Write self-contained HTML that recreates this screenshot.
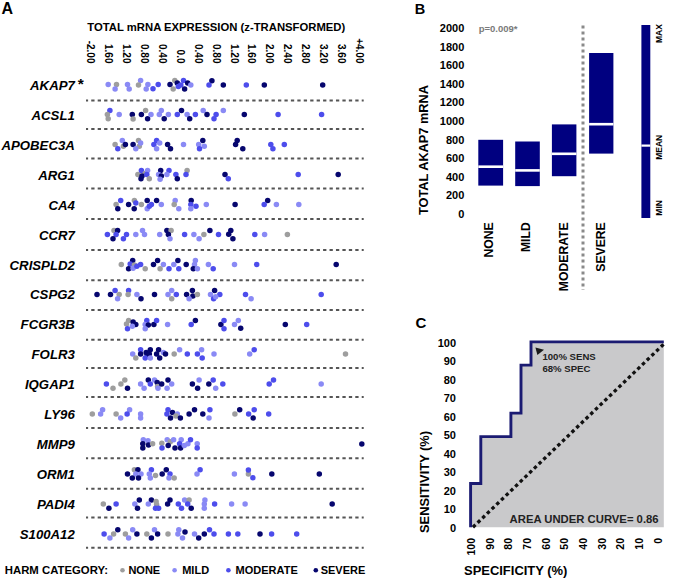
<!DOCTYPE html>
<html><head><meta charset="utf-8"><style>
html,body{margin:0;padding:0;background:#fff;overflow:hidden;width:675px;height:580px;}
svg{display:block;}
text{font-family:"Liberation Sans",sans-serif;}
</style></head><body>
<svg width="675" height="580" viewBox="0 0 675 580">
<rect width="675" height="580" fill="#fff"/>
<text x="1.6" y="14" font-size="16" font-family="Liberation Sans, sans-serif" font-weight="bold">A</text>
<text x="87.3" y="31.2" font-size="11" font-family="Liberation Sans, sans-serif" font-weight="bold" textLength="258" lengthAdjust="spacingAndGlyphs">TOTAL mRNA EXPRESSION (z-TRANSFORMED)</text>
<text transform="translate(87.20,63.5) rotate(90)" text-anchor="end" font-size="10" font-family="Liberation Sans, sans-serif" font-weight="bold">-2.00</text>
<text transform="translate(105.12,63.5) rotate(90)" text-anchor="end" font-size="10" font-family="Liberation Sans, sans-serif" font-weight="bold">1.60</text>
<text transform="translate(123.04,63.5) rotate(90)" text-anchor="end" font-size="10" font-family="Liberation Sans, sans-serif" font-weight="bold">1.20</text>
<text transform="translate(140.96,63.5) rotate(90)" text-anchor="end" font-size="10" font-family="Liberation Sans, sans-serif" font-weight="bold">0.80</text>
<text transform="translate(158.88,63.5) rotate(90)" text-anchor="end" font-size="10" font-family="Liberation Sans, sans-serif" font-weight="bold">0.40</text>
<text transform="translate(176.80,63.5) rotate(90)" text-anchor="end" font-size="10" font-family="Liberation Sans, sans-serif" font-weight="bold">0.0</text>
<text transform="translate(194.72,63.5) rotate(90)" text-anchor="end" font-size="10" font-family="Liberation Sans, sans-serif" font-weight="bold">0.40</text>
<text transform="translate(212.64,63.5) rotate(90)" text-anchor="end" font-size="10" font-family="Liberation Sans, sans-serif" font-weight="bold">0.80</text>
<text transform="translate(230.56,63.5) rotate(90)" text-anchor="end" font-size="10" font-family="Liberation Sans, sans-serif" font-weight="bold">1.20</text>
<text transform="translate(248.48,63.5) rotate(90)" text-anchor="end" font-size="10" font-family="Liberation Sans, sans-serif" font-weight="bold">1.60</text>
<text transform="translate(266.40,63.5) rotate(90)" text-anchor="end" font-size="10" font-family="Liberation Sans, sans-serif" font-weight="bold">2.00</text>
<text transform="translate(284.32,63.5) rotate(90)" text-anchor="end" font-size="10" font-family="Liberation Sans, sans-serif" font-weight="bold">2.40</text>
<text transform="translate(302.24,63.5) rotate(90)" text-anchor="end" font-size="10" font-family="Liberation Sans, sans-serif" font-weight="bold">2.80</text>
<text transform="translate(320.16,63.5) rotate(90)" text-anchor="end" font-size="10" font-family="Liberation Sans, sans-serif" font-weight="bold">3.20</text>
<text transform="translate(338.08,63.5) rotate(90)" text-anchor="end" font-size="10" font-family="Liberation Sans, sans-serif" font-weight="bold">3.60</text>
<text transform="translate(356.00,63.5) rotate(90)" text-anchor="end" font-size="10" font-family="Liberation Sans, sans-serif" font-weight="bold">+4.00</text>
<text x="74.8" y="90.1" text-anchor="end" font-size="13.2" font-family="Liberation Sans, sans-serif" font-weight="bold" font-style="italic">AKAP7</text>
<text x="74.8" y="120.0" text-anchor="end" font-size="13.2" font-family="Liberation Sans, sans-serif" font-weight="bold" font-style="italic">ACSL1</text>
<text x="74.8" y="149.9" text-anchor="end" font-size="13.2" font-family="Liberation Sans, sans-serif" font-weight="bold" font-style="italic">APOBEC3A</text>
<text x="74.8" y="179.8" text-anchor="end" font-size="13.2" font-family="Liberation Sans, sans-serif" font-weight="bold" font-style="italic">ARG1</text>
<text x="74.8" y="209.7" text-anchor="end" font-size="13.2" font-family="Liberation Sans, sans-serif" font-weight="bold" font-style="italic">CA4</text>
<text x="74.8" y="239.6" text-anchor="end" font-size="13.2" font-family="Liberation Sans, sans-serif" font-weight="bold" font-style="italic">CCR7</text>
<text x="74.8" y="269.5" text-anchor="end" font-size="13.2" font-family="Liberation Sans, sans-serif" font-weight="bold" font-style="italic">CRISPLD2</text>
<text x="74.8" y="299.4" text-anchor="end" font-size="13.2" font-family="Liberation Sans, sans-serif" font-weight="bold" font-style="italic">CSPG2</text>
<text x="74.8" y="329.3" text-anchor="end" font-size="13.2" font-family="Liberation Sans, sans-serif" font-weight="bold" font-style="italic">FCGR3B</text>
<text x="74.8" y="359.2" text-anchor="end" font-size="13.2" font-family="Liberation Sans, sans-serif" font-weight="bold" font-style="italic">FOLR3</text>
<text x="74.8" y="389.1" text-anchor="end" font-size="13.2" font-family="Liberation Sans, sans-serif" font-weight="bold" font-style="italic">IQGAP1</text>
<text x="74.8" y="419.0" text-anchor="end" font-size="13.2" font-family="Liberation Sans, sans-serif" font-weight="bold" font-style="italic">LY96</text>
<text x="74.8" y="448.9" text-anchor="end" font-size="13.2" font-family="Liberation Sans, sans-serif" font-weight="bold" font-style="italic">MMP9</text>
<text x="74.8" y="478.8" text-anchor="end" font-size="13.2" font-family="Liberation Sans, sans-serif" font-weight="bold" font-style="italic">ORM1</text>
<text x="74.8" y="508.7" text-anchor="end" font-size="13.2" font-family="Liberation Sans, sans-serif" font-weight="bold" font-style="italic">PADI4</text>
<text x="74.8" y="538.6" text-anchor="end" font-size="13.2" font-family="Liberation Sans, sans-serif" font-weight="bold" font-style="italic">S100A12</text>
<text x="77.8" y="89" font-size="15.5" font-family="Liberation Sans, sans-serif" font-weight="bold">*</text>
<line x1="86" y1="100.6" x2="363.7" y2="100.6" stroke="#555" stroke-width="2" stroke-dasharray="3.3 3.14" stroke-dashoffset="1.2"/>
<line x1="86" y1="129.0" x2="363.7" y2="129.0" stroke="#555" stroke-width="2" stroke-dasharray="3.3 3.14" stroke-dashoffset="1.2"/>
<line x1="86" y1="158.4" x2="363.7" y2="158.4" stroke="#555" stroke-width="2" stroke-dasharray="3.3 3.14" stroke-dashoffset="1.2"/>
<line x1="86" y1="188.5" x2="363.7" y2="188.5" stroke="#555" stroke-width="2" stroke-dasharray="3.3 3.14" stroke-dashoffset="1.2"/>
<line x1="86" y1="219.1" x2="363.7" y2="219.1" stroke="#555" stroke-width="2" stroke-dasharray="3.3 3.14" stroke-dashoffset="1.2"/>
<line x1="86" y1="249.9" x2="363.7" y2="249.9" stroke="#555" stroke-width="2" stroke-dasharray="3.3 3.14" stroke-dashoffset="1.2"/>
<line x1="86" y1="280.2" x2="363.7" y2="280.2" stroke="#555" stroke-width="2" stroke-dasharray="3.3 3.14" stroke-dashoffset="1.2"/>
<line x1="86" y1="309.9" x2="363.7" y2="309.9" stroke="#555" stroke-width="2" stroke-dasharray="3.3 3.14" stroke-dashoffset="1.2"/>
<line x1="86" y1="339.7" x2="363.7" y2="339.7" stroke="#555" stroke-width="2" stroke-dasharray="3.3 3.14" stroke-dashoffset="1.2"/>
<line x1="86" y1="368.1" x2="363.7" y2="368.1" stroke="#555" stroke-width="2" stroke-dasharray="3.3 3.14" stroke-dashoffset="1.2"/>
<line x1="86" y1="396.9" x2="363.7" y2="396.9" stroke="#555" stroke-width="2" stroke-dasharray="3.3 3.14" stroke-dashoffset="1.2"/>
<line x1="86" y1="428.0" x2="363.7" y2="428.0" stroke="#555" stroke-width="2" stroke-dasharray="3.3 3.14" stroke-dashoffset="1.2"/>
<line x1="86" y1="458.2" x2="363.7" y2="458.2" stroke="#555" stroke-width="2" stroke-dasharray="3.3 3.14" stroke-dashoffset="1.2"/>
<line x1="86" y1="488.7" x2="363.7" y2="488.7" stroke="#555" stroke-width="2" stroke-dasharray="3.3 3.14" stroke-dashoffset="1.2"/>
<line x1="86" y1="517.5" x2="363.7" y2="517.5" stroke="#555" stroke-width="2" stroke-dasharray="3.3 3.14" stroke-dashoffset="1.2"/>
<line x1="86" y1="547.7" x2="363.7" y2="547.7" stroke="#555" stroke-width="2" stroke-dasharray="3.3 3.14" stroke-dashoffset="1.2"/>
<circle cx="108.2" cy="84.5" r="2.75" fill="#8a8af5"/>
<circle cx="116.5" cy="84.5" r="2.75" fill="#9e9e9e"/>
<circle cx="115.1" cy="89.1" r="2.75" fill="#8a8af5"/>
<circle cx="127.5" cy="84.5" r="2.75" fill="#8a8af5"/>
<circle cx="129.2" cy="89.1" r="2.75" fill="#8a8af5"/>
<circle cx="140.6" cy="80.4" r="2.75" fill="#8a8af5"/>
<circle cx="138.5" cy="84.9" r="2.75" fill="#9e9e9e"/>
<circle cx="147.9" cy="84.5" r="2.75" fill="#8a8af5"/>
<circle cx="146.2" cy="89.1" r="2.75" fill="#8a8af5"/>
<circle cx="153.0" cy="88.7" r="2.75" fill="#4d4dec"/>
<circle cx="158.2" cy="84.5" r="2.75" fill="#4d4dec"/>
<circle cx="170.0" cy="84.5" r="2.75" fill="#06066e"/>
<circle cx="174.8" cy="80.4" r="2.75" fill="#9e9e9e"/>
<circle cx="173.2" cy="89.1" r="2.75" fill="#9e9e9e"/>
<circle cx="177.3" cy="82.9" r="2.75" fill="#06066e"/>
<circle cx="178.3" cy="86.6" r="2.75" fill="#4d4dec"/>
<circle cx="183.5" cy="80.4" r="2.75" fill="#4d4dec"/>
<circle cx="180.8" cy="84.9" r="2.75" fill="#4d4dec"/>
<circle cx="187.7" cy="82.9" r="2.75" fill="#06066e"/>
<circle cx="190.8" cy="84.9" r="2.75" fill="#8a8af5"/>
<circle cx="184.6" cy="89.1" r="2.75" fill="#06066e"/>
<circle cx="211.9" cy="80.8" r="2.75" fill="#06066e"/>
<circle cx="209.0" cy="84.9" r="2.75" fill="#4d4dec"/>
<circle cx="223.3" cy="84.9" r="2.75" fill="#06066e"/>
<circle cx="246.3" cy="84.9" r="2.75" fill="#4d4dec"/>
<circle cx="264.3" cy="84.9" r="2.75" fill="#06066e"/>
<circle cx="322.7" cy="84.9" r="2.75" fill="#06066e"/>
<circle cx="109.9" cy="110.4" r="2.75" fill="#4d4dec"/>
<circle cx="107.4" cy="114.6" r="2.75" fill="#9e9e9e"/>
<circle cx="108.2" cy="118.7" r="2.75" fill="#9e9e9e"/>
<circle cx="119.2" cy="114.6" r="2.75" fill="#8a8af5"/>
<circle cx="132.3" cy="114.6" r="2.75" fill="#06066e"/>
<circle cx="133.1" cy="119.0" r="2.75" fill="#9e9e9e"/>
<circle cx="141.4" cy="114.6" r="2.75" fill="#06066e"/>
<circle cx="145.6" cy="110.4" r="2.75" fill="#9e9e9e"/>
<circle cx="147.6" cy="118.7" r="2.75" fill="#06066e"/>
<circle cx="151.0" cy="114.6" r="2.75" fill="#8a8af5"/>
<circle cx="161.3" cy="110.4" r="2.75" fill="#8a8af5"/>
<circle cx="159.3" cy="114.6" r="2.75" fill="#8a8af5"/>
<circle cx="164.2" cy="118.7" r="2.75" fill="#06066e"/>
<circle cx="168.4" cy="114.6" r="2.75" fill="#8a8af5"/>
<circle cx="177.3" cy="114.6" r="2.75" fill="#4d4dec"/>
<circle cx="181.5" cy="110.4" r="2.75" fill="#06066e"/>
<circle cx="187.1" cy="114.6" r="2.75" fill="#8a8af5"/>
<circle cx="189.7" cy="118.7" r="2.75" fill="#06066e"/>
<circle cx="195.4" cy="114.6" r="2.75" fill="#4d4dec"/>
<circle cx="203.2" cy="110.4" r="2.75" fill="#8a8af5"/>
<circle cx="207.0" cy="114.6" r="2.75" fill="#06066e"/>
<circle cx="216.1" cy="114.6" r="2.75" fill="#4d4dec"/>
<circle cx="214.0" cy="118.7" r="2.75" fill="#4d4dec"/>
<circle cx="223.3" cy="110.4" r="2.75" fill="#8a8af5"/>
<circle cx="244.3" cy="114.6" r="2.75" fill="#06066e"/>
<circle cx="278.1" cy="114.6" r="2.75" fill="#4d4dec"/>
<circle cx="321.6" cy="114.6" r="2.75" fill="#4d4dec"/>
<circle cx="115.1" cy="144.5" r="2.75" fill="#9e9e9e"/>
<circle cx="117.8" cy="148.7" r="2.75" fill="#4d4dec"/>
<circle cx="122.3" cy="140.4" r="2.75" fill="#8a8af5"/>
<circle cx="123.4" cy="146.2" r="2.75" fill="#9e9e9e"/>
<circle cx="125.4" cy="144.5" r="2.75" fill="#06066e"/>
<circle cx="133.1" cy="144.5" r="2.75" fill="#06066e"/>
<circle cx="138.5" cy="140.4" r="2.75" fill="#9e9e9e"/>
<circle cx="139.3" cy="146.2" r="2.75" fill="#9e9e9e"/>
<circle cx="140.6" cy="142.9" r="2.75" fill="#8a8af5"/>
<circle cx="135.8" cy="148.7" r="2.75" fill="#8a8af5"/>
<circle cx="156.6" cy="140.4" r="2.75" fill="#4d4dec"/>
<circle cx="153.9" cy="144.5" r="2.75" fill="#4d4dec"/>
<circle cx="159.7" cy="142.9" r="2.75" fill="#8a8af5"/>
<circle cx="156.6" cy="148.7" r="2.75" fill="#8a8af5"/>
<circle cx="167.6" cy="144.5" r="2.75" fill="#06066e"/>
<circle cx="170.5" cy="148.7" r="2.75" fill="#06066e"/>
<circle cx="183.5" cy="144.5" r="2.75" fill="#8a8af5"/>
<circle cx="202.8" cy="140.4" r="2.75" fill="#06066e"/>
<circle cx="198.7" cy="144.5" r="2.75" fill="#8a8af5"/>
<circle cx="204.3" cy="146.2" r="2.75" fill="#8a8af5"/>
<circle cx="199.5" cy="148.7" r="2.75" fill="#4d4dec"/>
<circle cx="237.2" cy="140.4" r="2.75" fill="#06066e"/>
<circle cx="235.6" cy="144.5" r="2.75" fill="#06066e"/>
<circle cx="242.8" cy="148.7" r="2.75" fill="#06066e"/>
<circle cx="270.8" cy="144.5" r="2.75" fill="#4d4dec"/>
<circle cx="272.9" cy="148.7" r="2.75" fill="#4d4dec"/>
<circle cx="284.3" cy="144.5" r="2.75" fill="#4d4dec"/>
<circle cx="137.9" cy="174.6" r="2.75" fill="#9e9e9e"/>
<circle cx="141.4" cy="170.4" r="2.75" fill="#4d4dec"/>
<circle cx="145.2" cy="173.6" r="2.75" fill="#9e9e9e"/>
<circle cx="147.6" cy="170.4" r="2.75" fill="#8a8af5"/>
<circle cx="141.0" cy="178.7" r="2.75" fill="#06066e"/>
<circle cx="142.0" cy="176.0" r="2.75" fill="#06066e"/>
<circle cx="146.8" cy="174.6" r="2.75" fill="#4d4dec"/>
<circle cx="149.3" cy="178.7" r="2.75" fill="#9e9e9e"/>
<circle cx="160.7" cy="170.4" r="2.75" fill="#06066e"/>
<circle cx="158.6" cy="174.6" r="2.75" fill="#8a8af5"/>
<circle cx="161.3" cy="176.0" r="2.75" fill="#06066e"/>
<circle cx="160.1" cy="179.2" r="2.75" fill="#8a8af5"/>
<circle cx="169.0" cy="170.4" r="2.75" fill="#4d4dec"/>
<circle cx="166.9" cy="174.6" r="2.75" fill="#8a8af5"/>
<circle cx="175.9" cy="174.6" r="2.75" fill="#4d4dec"/>
<circle cx="177.3" cy="178.7" r="2.75" fill="#06066e"/>
<circle cx="187.1" cy="170.4" r="2.75" fill="#9e9e9e"/>
<circle cx="186.0" cy="174.6" r="2.75" fill="#4d4dec"/>
<circle cx="225.0" cy="174.6" r="2.75" fill="#06066e"/>
<circle cx="228.3" cy="178.7" r="2.75" fill="#4d4dec"/>
<circle cx="298.2" cy="174.6" r="2.75" fill="#4d4dec"/>
<circle cx="338.2" cy="174.6" r="2.75" fill="#06066e"/>
<circle cx="116.1" cy="204.5" r="2.75" fill="#9e9e9e"/>
<circle cx="120.7" cy="200.4" r="2.75" fill="#4d4dec"/>
<circle cx="117.8" cy="208.7" r="2.75" fill="#06066e"/>
<circle cx="128.6" cy="204.5" r="2.75" fill="#06066e"/>
<circle cx="134.4" cy="200.4" r="2.75" fill="#9e9e9e"/>
<circle cx="135.8" cy="202.9" r="2.75" fill="#4d4dec"/>
<circle cx="134.2" cy="208.7" r="2.75" fill="#06066e"/>
<circle cx="141.4" cy="204.5" r="2.75" fill="#9e9e9e"/>
<circle cx="147.2" cy="200.4" r="2.75" fill="#06066e"/>
<circle cx="151.4" cy="204.5" r="2.75" fill="#4d4dec"/>
<circle cx="147.2" cy="208.7" r="2.75" fill="#8a8af5"/>
<circle cx="149.3" cy="206.2" r="2.75" fill="#4d4dec"/>
<circle cx="156.6" cy="200.4" r="2.75" fill="#06066e"/>
<circle cx="161.3" cy="204.5" r="2.75" fill="#8a8af5"/>
<circle cx="175.2" cy="200.4" r="2.75" fill="#8a8af5"/>
<circle cx="174.2" cy="204.5" r="2.75" fill="#9e9e9e"/>
<circle cx="178.8" cy="208.7" r="2.75" fill="#8a8af5"/>
<circle cx="191.2" cy="200.4" r="2.75" fill="#06066e"/>
<circle cx="190.8" cy="204.5" r="2.75" fill="#4d4dec"/>
<circle cx="196.0" cy="206.2" r="2.75" fill="#4d4dec"/>
<circle cx="190.8" cy="208.7" r="2.75" fill="#8a8af5"/>
<circle cx="206.3" cy="204.5" r="2.75" fill="#8a8af5"/>
<circle cx="235.1" cy="204.5" r="2.75" fill="#06066e"/>
<circle cx="267.7" cy="200.4" r="2.75" fill="#06066e"/>
<circle cx="264.2" cy="204.5" r="2.75" fill="#4d4dec"/>
<circle cx="276.4" cy="204.5" r="2.75" fill="#8a8af5"/>
<circle cx="298.8" cy="204.5" r="2.75" fill="#8a8af5"/>
<circle cx="107.4" cy="234.6" r="2.75" fill="#4d4dec"/>
<circle cx="114.0" cy="230.4" r="2.75" fill="#9e9e9e"/>
<circle cx="117.6" cy="230.4" r="2.75" fill="#06066e"/>
<circle cx="116.1" cy="234.6" r="2.75" fill="#4d4dec"/>
<circle cx="113.0" cy="238.7" r="2.75" fill="#06066e"/>
<circle cx="126.5" cy="234.6" r="2.75" fill="#4d4dec"/>
<circle cx="123.4" cy="238.7" r="2.75" fill="#4d4dec"/>
<circle cx="135.8" cy="234.6" r="2.75" fill="#8a8af5"/>
<circle cx="142.5" cy="230.4" r="2.75" fill="#8a8af5"/>
<circle cx="144.5" cy="234.6" r="2.75" fill="#8a8af5"/>
<circle cx="159.7" cy="234.6" r="2.75" fill="#8a8af5"/>
<circle cx="166.9" cy="230.4" r="2.75" fill="#06066e"/>
<circle cx="171.1" cy="230.4" r="2.75" fill="#9e9e9e"/>
<circle cx="168.4" cy="234.6" r="2.75" fill="#06066e"/>
<circle cx="170.0" cy="238.7" r="2.75" fill="#8a8af5"/>
<circle cx="184.6" cy="234.6" r="2.75" fill="#4d4dec"/>
<circle cx="193.9" cy="234.6" r="2.75" fill="#8a8af5"/>
<circle cx="199.1" cy="238.7" r="2.75" fill="#8a8af5"/>
<circle cx="203.9" cy="234.6" r="2.75" fill="#9e9e9e"/>
<circle cx="209.9" cy="230.4" r="2.75" fill="#06066e"/>
<circle cx="218.5" cy="234.6" r="2.75" fill="#4d4dec"/>
<circle cx="230.8" cy="230.4" r="2.75" fill="#06066e"/>
<circle cx="228.7" cy="234.2" r="2.75" fill="#06066e"/>
<circle cx="232.9" cy="238.7" r="2.75" fill="#06066e"/>
<circle cx="254.8" cy="234.6" r="2.75" fill="#4d4dec"/>
<circle cx="264.6" cy="234.6" r="2.75" fill="#8a8af5"/>
<circle cx="287.4" cy="234.6" r="2.75" fill="#9e9e9e"/>
<circle cx="121.3" cy="264.5" r="2.75" fill="#9e9e9e"/>
<circle cx="132.7" cy="260.4" r="2.75" fill="#06066e"/>
<circle cx="130.2" cy="264.1" r="2.75" fill="#4d4dec"/>
<circle cx="128.6" cy="268.7" r="2.75" fill="#06066e"/>
<circle cx="134.4" cy="264.9" r="2.75" fill="#9e9e9e"/>
<circle cx="133.1" cy="268.3" r="2.75" fill="#8a8af5"/>
<circle cx="136.9" cy="266.2" r="2.75" fill="#4d4dec"/>
<circle cx="140.6" cy="264.5" r="2.75" fill="#4d4dec"/>
<circle cx="145.2" cy="268.7" r="2.75" fill="#9e9e9e"/>
<circle cx="157.6" cy="260.4" r="2.75" fill="#06066e"/>
<circle cx="153.5" cy="264.5" r="2.75" fill="#06066e"/>
<circle cx="163.4" cy="264.5" r="2.75" fill="#8a8af5"/>
<circle cx="160.1" cy="268.7" r="2.75" fill="#9e9e9e"/>
<circle cx="173.8" cy="264.5" r="2.75" fill="#8a8af5"/>
<circle cx="177.9" cy="260.4" r="2.75" fill="#06066e"/>
<circle cx="169.0" cy="268.7" r="2.75" fill="#4d4dec"/>
<circle cx="178.8" cy="268.7" r="2.75" fill="#4d4dec"/>
<circle cx="186.2" cy="264.5" r="2.75" fill="#06066e"/>
<circle cx="195.4" cy="260.4" r="2.75" fill="#8a8af5"/>
<circle cx="194.5" cy="264.5" r="2.75" fill="#8a8af5"/>
<circle cx="193.3" cy="268.7" r="2.75" fill="#06066e"/>
<circle cx="197.4" cy="268.7" r="2.75" fill="#8a8af5"/>
<circle cx="208.4" cy="264.5" r="2.75" fill="#8a8af5"/>
<circle cx="213.2" cy="268.7" r="2.75" fill="#4d4dec"/>
<circle cx="234.5" cy="264.5" r="2.75" fill="#8a8af5"/>
<circle cx="256.7" cy="264.5" r="2.75" fill="#4d4dec"/>
<circle cx="336.2" cy="264.5" r="2.75" fill="#06066e"/>
<circle cx="97.0" cy="294.6" r="2.75" fill="#06066e"/>
<circle cx="110.5" cy="294.6" r="2.75" fill="#06066e"/>
<circle cx="115.1" cy="290.4" r="2.75" fill="#4d4dec"/>
<circle cx="119.2" cy="294.6" r="2.75" fill="#9e9e9e"/>
<circle cx="117.6" cy="298.7" r="2.75" fill="#8a8af5"/>
<circle cx="128.6" cy="290.4" r="2.75" fill="#4d4dec"/>
<circle cx="128.1" cy="294.6" r="2.75" fill="#9e9e9e"/>
<circle cx="136.9" cy="294.6" r="2.75" fill="#8a8af5"/>
<circle cx="141.0" cy="298.7" r="2.75" fill="#06066e"/>
<circle cx="154.5" cy="294.6" r="2.75" fill="#06066e"/>
<circle cx="171.7" cy="290.4" r="2.75" fill="#8a8af5"/>
<circle cx="168.0" cy="294.6" r="2.75" fill="#8a8af5"/>
<circle cx="176.3" cy="294.6" r="2.75" fill="#4d4dec"/>
<circle cx="171.7" cy="298.7" r="2.75" fill="#9e9e9e"/>
<circle cx="192.4" cy="290.4" r="2.75" fill="#06066e"/>
<circle cx="186.6" cy="294.6" r="2.75" fill="#06066e"/>
<circle cx="192.9" cy="296.0" r="2.75" fill="#06066e"/>
<circle cx="197.4" cy="294.6" r="2.75" fill="#9e9e9e"/>
<circle cx="189.1" cy="298.7" r="2.75" fill="#8a8af5"/>
<circle cx="214.6" cy="290.4" r="2.75" fill="#06066e"/>
<circle cx="210.5" cy="294.6" r="2.75" fill="#8a8af5"/>
<circle cx="219.8" cy="294.6" r="2.75" fill="#4d4dec"/>
<circle cx="213.6" cy="298.7" r="2.75" fill="#4d4dec"/>
<circle cx="215.7" cy="296.7" r="2.75" fill="#8a8af5"/>
<circle cx="245.5" cy="294.6" r="2.75" fill="#4d4dec"/>
<circle cx="251.1" cy="298.7" r="2.75" fill="#8a8af5"/>
<circle cx="321.2" cy="294.6" r="2.75" fill="#4d4dec"/>
<circle cx="128.6" cy="320.4" r="2.75" fill="#9e9e9e"/>
<circle cx="126.5" cy="324.1" r="2.75" fill="#9e9e9e"/>
<circle cx="127.5" cy="328.7" r="2.75" fill="#4d4dec"/>
<circle cx="133.1" cy="322.0" r="2.75" fill="#06066e"/>
<circle cx="135.8" cy="324.5" r="2.75" fill="#06066e"/>
<circle cx="132.3" cy="326.2" r="2.75" fill="#8a8af5"/>
<circle cx="146.8" cy="320.4" r="2.75" fill="#4d4dec"/>
<circle cx="145.2" cy="324.5" r="2.75" fill="#8a8af5"/>
<circle cx="148.3" cy="324.9" r="2.75" fill="#06066e"/>
<circle cx="145.2" cy="328.7" r="2.75" fill="#8a8af5"/>
<circle cx="153.9" cy="324.5" r="2.75" fill="#06066e"/>
<circle cx="156.6" cy="320.4" r="2.75" fill="#4d4dec"/>
<circle cx="167.6" cy="324.5" r="2.75" fill="#8a8af5"/>
<circle cx="195.4" cy="320.4" r="2.75" fill="#06066e"/>
<circle cx="191.2" cy="324.5" r="2.75" fill="#4d4dec"/>
<circle cx="220.9" cy="324.5" r="2.75" fill="#06066e"/>
<circle cx="224.0" cy="320.4" r="2.75" fill="#4d4dec"/>
<circle cx="224.0" cy="328.7" r="2.75" fill="#4d4dec"/>
<circle cx="238.3" cy="320.4" r="2.75" fill="#8a8af5"/>
<circle cx="234.5" cy="324.5" r="2.75" fill="#8a8af5"/>
<circle cx="240.7" cy="328.3" r="2.75" fill="#06066e"/>
<circle cx="285.3" cy="324.5" r="2.75" fill="#06066e"/>
<circle cx="306.7" cy="324.5" r="2.75" fill="#4d4dec"/>
<circle cx="132.7" cy="354.0" r="2.75" fill="#8a8af5"/>
<circle cx="135.8" cy="358.1" r="2.75" fill="#9e9e9e"/>
<circle cx="140.6" cy="349.8" r="2.75" fill="#4d4dec"/>
<circle cx="140.6" cy="354.0" r="2.75" fill="#06066e"/>
<circle cx="146.2" cy="352.5" r="2.75" fill="#06066e"/>
<circle cx="147.2" cy="354.6" r="2.75" fill="#06066e"/>
<circle cx="150.3" cy="349.8" r="2.75" fill="#06066e"/>
<circle cx="149.3" cy="354.0" r="2.75" fill="#06066e"/>
<circle cx="145.2" cy="358.1" r="2.75" fill="#4d4dec"/>
<circle cx="150.3" cy="358.1" r="2.75" fill="#8a8af5"/>
<circle cx="158.6" cy="349.8" r="2.75" fill="#06066e"/>
<circle cx="156.6" cy="354.0" r="2.75" fill="#06066e"/>
<circle cx="163.4" cy="352.5" r="2.75" fill="#8a8af5"/>
<circle cx="159.7" cy="358.1" r="2.75" fill="#06066e"/>
<circle cx="165.5" cy="354.0" r="2.75" fill="#06066e"/>
<circle cx="174.2" cy="354.0" r="2.75" fill="#9e9e9e"/>
<circle cx="179.6" cy="349.8" r="2.75" fill="#8a8af5"/>
<circle cx="187.3" cy="354.0" r="2.75" fill="#4d4dec"/>
<circle cx="201.6" cy="349.8" r="2.75" fill="#8a8af5"/>
<circle cx="197.4" cy="354.0" r="2.75" fill="#4d4dec"/>
<circle cx="202.2" cy="358.1" r="2.75" fill="#4d4dec"/>
<circle cx="214.0" cy="354.0" r="2.75" fill="#8a8af5"/>
<circle cx="254.2" cy="349.8" r="2.75" fill="#4d4dec"/>
<circle cx="249.7" cy="354.0" r="2.75" fill="#8a8af5"/>
<circle cx="345.5" cy="354.0" r="2.75" fill="#9e9e9e"/>
<circle cx="106.4" cy="384.1" r="2.75" fill="#4d4dec"/>
<circle cx="113.0" cy="388.3" r="2.75" fill="#9e9e9e"/>
<circle cx="124.8" cy="380.0" r="2.75" fill="#9e9e9e"/>
<circle cx="120.9" cy="384.1" r="2.75" fill="#9e9e9e"/>
<circle cx="127.5" cy="388.3" r="2.75" fill="#06066e"/>
<circle cx="140.6" cy="384.1" r="2.75" fill="#8a8af5"/>
<circle cx="144.1" cy="388.3" r="2.75" fill="#8a8af5"/>
<circle cx="148.3" cy="380.0" r="2.75" fill="#06066e"/>
<circle cx="150.3" cy="384.1" r="2.75" fill="#4d4dec"/>
<circle cx="154.5" cy="380.0" r="2.75" fill="#8a8af5"/>
<circle cx="157.2" cy="382.4" r="2.75" fill="#06066e"/>
<circle cx="157.6" cy="386.6" r="2.75" fill="#9e9e9e"/>
<circle cx="158.0" cy="388.3" r="2.75" fill="#8a8af5"/>
<circle cx="161.7" cy="384.1" r="2.75" fill="#06066e"/>
<circle cx="168.0" cy="380.0" r="2.75" fill="#06066e"/>
<circle cx="171.7" cy="384.1" r="2.75" fill="#8a8af5"/>
<circle cx="167.1" cy="388.3" r="2.75" fill="#8a8af5"/>
<circle cx="192.4" cy="384.1" r="2.75" fill="#06066e"/>
<circle cx="199.1" cy="380.0" r="2.75" fill="#8a8af5"/>
<circle cx="197.6" cy="388.3" r="2.75" fill="#06066e"/>
<circle cx="208.8" cy="384.1" r="2.75" fill="#06066e"/>
<circle cx="213.2" cy="380.0" r="2.75" fill="#4d4dec"/>
<circle cx="215.7" cy="388.3" r="2.75" fill="#8a8af5"/>
<circle cx="222.8" cy="384.1" r="2.75" fill="#4d4dec"/>
<circle cx="273.5" cy="380.0" r="2.75" fill="#4d4dec"/>
<circle cx="269.2" cy="384.1" r="2.75" fill="#4d4dec"/>
<circle cx="321.2" cy="384.1" r="2.75" fill="#8a8af5"/>
<circle cx="92.3" cy="414.0" r="2.75" fill="#9e9e9e"/>
<circle cx="102.6" cy="409.8" r="2.75" fill="#8a8af5"/>
<circle cx="100.6" cy="414.0" r="2.75" fill="#8a8af5"/>
<circle cx="116.1" cy="414.0" r="2.75" fill="#9e9e9e"/>
<circle cx="120.7" cy="418.1" r="2.75" fill="#8a8af5"/>
<circle cx="129.6" cy="409.8" r="2.75" fill="#8a8af5"/>
<circle cx="127.1" cy="414.0" r="2.75" fill="#4d4dec"/>
<circle cx="140.6" cy="414.0" r="2.75" fill="#8a8af5"/>
<circle cx="140.6" cy="418.1" r="2.75" fill="#8a8af5"/>
<circle cx="168.0" cy="409.8" r="2.75" fill="#4d4dec"/>
<circle cx="166.9" cy="414.0" r="2.75" fill="#4d4dec"/>
<circle cx="172.5" cy="412.5" r="2.75" fill="#06066e"/>
<circle cx="177.3" cy="414.0" r="2.75" fill="#8a8af5"/>
<circle cx="175.9" cy="416.0" r="2.75" fill="#9e9e9e"/>
<circle cx="170.5" cy="418.1" r="2.75" fill="#06066e"/>
<circle cx="180.4" cy="418.1" r="2.75" fill="#06066e"/>
<circle cx="189.1" cy="414.0" r="2.75" fill="#06066e"/>
<circle cx="194.5" cy="409.8" r="2.75" fill="#06066e"/>
<circle cx="202.8" cy="414.0" r="2.75" fill="#06066e"/>
<circle cx="209.9" cy="409.8" r="2.75" fill="#4d4dec"/>
<circle cx="209.0" cy="418.1" r="2.75" fill="#8a8af5"/>
<circle cx="234.9" cy="414.0" r="2.75" fill="#9e9e9e"/>
<circle cx="239.7" cy="409.8" r="2.75" fill="#06066e"/>
<circle cx="248.6" cy="414.0" r="2.75" fill="#4d4dec"/>
<circle cx="254.2" cy="409.8" r="2.75" fill="#4d4dec"/>
<circle cx="253.2" cy="418.1" r="2.75" fill="#06066e"/>
<circle cx="268.7" cy="414.0" r="2.75" fill="#4d4dec"/>
<circle cx="143.3" cy="439.7" r="2.75" fill="#8a8af5"/>
<circle cx="142.8" cy="443.8" r="2.75" fill="#06066e"/>
<circle cx="142.8" cy="448.0" r="2.75" fill="#06066e"/>
<circle cx="148.0" cy="440.7" r="2.75" fill="#8a8af5"/>
<circle cx="148.5" cy="444.9" r="2.75" fill="#06066e"/>
<circle cx="152.6" cy="443.8" r="2.75" fill="#9e9e9e"/>
<circle cx="161.8" cy="443.3" r="2.75" fill="#9e9e9e"/>
<circle cx="162.0" cy="448.0" r="2.75" fill="#4d4dec"/>
<circle cx="167.2" cy="439.7" r="2.75" fill="#8a8af5"/>
<circle cx="170.3" cy="441.7" r="2.75" fill="#9e9e9e"/>
<circle cx="168.2" cy="445.4" r="2.75" fill="#06066e"/>
<circle cx="173.6" cy="439.7" r="2.75" fill="#8a8af5"/>
<circle cx="175.0" cy="448.0" r="2.75" fill="#06066e"/>
<circle cx="181.2" cy="439.7" r="2.75" fill="#8a8af5"/>
<circle cx="179.6" cy="443.8" r="2.75" fill="#4d4dec"/>
<circle cx="180.6" cy="448.0" r="2.75" fill="#06066e"/>
<circle cx="184.3" cy="445.4" r="2.75" fill="#8a8af5"/>
<circle cx="187.9" cy="443.8" r="2.75" fill="#8a8af5"/>
<circle cx="190.5" cy="439.7" r="2.75" fill="#4d4dec"/>
<circle cx="197.2" cy="443.8" r="2.75" fill="#8a8af5"/>
<circle cx="197.2" cy="448.0" r="2.75" fill="#4d4dec"/>
<circle cx="361.8" cy="444.0" r="2.75" fill="#06066e"/>
<circle cx="127.5" cy="474.0" r="2.75" fill="#06066e"/>
<circle cx="134.4" cy="469.8" r="2.75" fill="#9e9e9e"/>
<circle cx="137.9" cy="469.8" r="2.75" fill="#06066e"/>
<circle cx="135.8" cy="474.0" r="2.75" fill="#8a8af5"/>
<circle cx="141.0" cy="474.0" r="2.75" fill="#8a8af5"/>
<circle cx="132.3" cy="478.1" r="2.75" fill="#06066e"/>
<circle cx="138.5" cy="478.1" r="2.75" fill="#06066e"/>
<circle cx="151.4" cy="469.8" r="2.75" fill="#4d4dec"/>
<circle cx="149.3" cy="474.0" r="2.75" fill="#8a8af5"/>
<circle cx="155.5" cy="475.6" r="2.75" fill="#9e9e9e"/>
<circle cx="150.3" cy="478.1" r="2.75" fill="#8a8af5"/>
<circle cx="162.2" cy="474.0" r="2.75" fill="#06066e"/>
<circle cx="166.3" cy="469.8" r="2.75" fill="#06066e"/>
<circle cx="170.0" cy="474.0" r="2.75" fill="#4d4dec"/>
<circle cx="169.0" cy="478.1" r="2.75" fill="#8a8af5"/>
<circle cx="174.2" cy="478.1" r="2.75" fill="#9e9e9e"/>
<circle cx="200.1" cy="469.8" r="2.75" fill="#4d4dec"/>
<circle cx="197.0" cy="474.0" r="2.75" fill="#8a8af5"/>
<circle cx="234.4" cy="474.0" r="2.75" fill="#8a8af5"/>
<circle cx="248.4" cy="474.0" r="2.75" fill="#9e9e9e"/>
<circle cx="248.4" cy="470.0" r="2.75" fill="#4d4dec"/>
<circle cx="252.9" cy="477.8" r="2.75" fill="#4d4dec"/>
<circle cx="271.8" cy="474.0" r="2.75" fill="#06066e"/>
<circle cx="319.3" cy="474.0" r="2.75" fill="#06066e"/>
<circle cx="103.3" cy="504.1" r="2.75" fill="#9e9e9e"/>
<circle cx="108.9" cy="508.3" r="2.75" fill="#06066e"/>
<circle cx="116.1" cy="504.1" r="2.75" fill="#4d4dec"/>
<circle cx="139.3" cy="500.0" r="2.75" fill="#06066e"/>
<circle cx="134.8" cy="504.1" r="2.75" fill="#8a8af5"/>
<circle cx="137.5" cy="508.3" r="2.75" fill="#06066e"/>
<circle cx="151.4" cy="500.0" r="2.75" fill="#06066e"/>
<circle cx="148.3" cy="504.1" r="2.75" fill="#8a8af5"/>
<circle cx="156.1" cy="501.4" r="2.75" fill="#9e9e9e"/>
<circle cx="156.6" cy="504.5" r="2.75" fill="#9e9e9e"/>
<circle cx="155.5" cy="508.3" r="2.75" fill="#4d4dec"/>
<circle cx="158.6" cy="508.3" r="2.75" fill="#4d4dec"/>
<circle cx="170.0" cy="500.0" r="2.75" fill="#06066e"/>
<circle cx="167.6" cy="504.1" r="2.75" fill="#06066e"/>
<circle cx="184.6" cy="500.0" r="2.75" fill="#8a8af5"/>
<circle cx="189.1" cy="500.0" r="2.75" fill="#9e9e9e"/>
<circle cx="178.3" cy="504.1" r="2.75" fill="#4d4dec"/>
<circle cx="181.5" cy="508.3" r="2.75" fill="#4d4dec"/>
<circle cx="187.7" cy="504.1" r="2.75" fill="#4d4dec"/>
<circle cx="191.2" cy="508.3" r="2.75" fill="#06066e"/>
<circle cx="204.9" cy="500.0" r="2.75" fill="#8a8af5"/>
<circle cx="204.3" cy="504.1" r="2.75" fill="#8a8af5"/>
<circle cx="204.3" cy="508.3" r="2.75" fill="#8a8af5"/>
<circle cx="214.6" cy="504.1" r="2.75" fill="#4d4dec"/>
<circle cx="231.6" cy="504.0" r="2.75" fill="#8a8af5"/>
<circle cx="245.1" cy="504.0" r="2.75" fill="#8a8af5"/>
<circle cx="332.2" cy="504.0" r="2.75" fill="#06066e"/>
<circle cx="104.1" cy="534.0" r="2.75" fill="#4d4dec"/>
<circle cx="109.9" cy="538.1" r="2.75" fill="#8a8af5"/>
<circle cx="113.6" cy="534.0" r="2.75" fill="#9e9e9e"/>
<circle cx="117.8" cy="529.8" r="2.75" fill="#06066e"/>
<circle cx="125.4" cy="534.0" r="2.75" fill="#9e9e9e"/>
<circle cx="132.7" cy="529.8" r="2.75" fill="#8a8af5"/>
<circle cx="136.9" cy="534.0" r="2.75" fill="#06066e"/>
<circle cx="128.6" cy="538.1" r="2.75" fill="#8a8af5"/>
<circle cx="146.8" cy="534.0" r="2.75" fill="#9e9e9e"/>
<circle cx="154.5" cy="529.8" r="2.75" fill="#8a8af5"/>
<circle cx="157.6" cy="534.0" r="2.75" fill="#06066e"/>
<circle cx="151.4" cy="538.1" r="2.75" fill="#06066e"/>
<circle cx="168.0" cy="534.0" r="2.75" fill="#9e9e9e"/>
<circle cx="178.8" cy="529.8" r="2.75" fill="#8a8af5"/>
<circle cx="177.9" cy="534.0" r="2.75" fill="#8a8af5"/>
<circle cx="185.0" cy="531.9" r="2.75" fill="#06066e"/>
<circle cx="182.5" cy="538.1" r="2.75" fill="#8a8af5"/>
<circle cx="194.5" cy="534.0" r="2.75" fill="#8a8af5"/>
<circle cx="198.7" cy="538.1" r="2.75" fill="#06066e"/>
<circle cx="204.3" cy="534.0" r="2.75" fill="#06066e"/>
<circle cx="209.5" cy="529.8" r="2.75" fill="#4d4dec"/>
<circle cx="214.0" cy="534.0" r="2.75" fill="#4d4dec"/>
<circle cx="228.4" cy="534.0" r="2.75" fill="#4d4dec"/>
<circle cx="237.8" cy="534.0" r="2.75" fill="#4d4dec"/>
<circle cx="260.0" cy="534.0" r="2.75" fill="#06066e"/>
<circle cx="271.6" cy="534.0" r="2.75" fill="#4d4dec"/>
<circle cx="296.7" cy="534.0" r="2.75" fill="#4d4dec"/>
<text x="4.8" y="574" font-size="11.35" font-family="Liberation Sans, sans-serif" font-weight="bold">HARM CATEGORY:</text>
<circle cx="122.5" cy="570.3" r="2.3" fill="#9e9e9e"/>
<text x="128.4" y="574" font-size="11" font-family="Liberation Sans, sans-serif" font-weight="bold">NONE</text>
<circle cx="174.6" cy="570.3" r="2.3" fill="#8a8af5"/>
<text x="182.2" y="574" font-size="11" font-family="Liberation Sans, sans-serif" font-weight="bold">MILD</text>
<circle cx="228.4" cy="570.3" r="2.3" fill="#4d4dec"/>
<text x="235.6" y="574" font-size="11" font-family="Liberation Sans, sans-serif" font-weight="bold">MODERATE</text>
<circle cx="315.8" cy="570.3" r="2.3" fill="#06066e"/>
<text x="320.7" y="574" font-size="11" font-family="Liberation Sans, sans-serif" font-weight="bold">SEVERE</text>
<text x="414.8" y="14" font-size="14.5" font-family="Liberation Sans, sans-serif" font-weight="bold">B</text>
<text x="464.3" y="32.35" text-anchor="end" font-size="11" font-family="Liberation Sans, sans-serif" font-weight="bold">2000</text>
<text x="464.3" y="50.88" text-anchor="end" font-size="11" font-family="Liberation Sans, sans-serif" font-weight="bold">1800</text>
<text x="464.3" y="69.41" text-anchor="end" font-size="11" font-family="Liberation Sans, sans-serif" font-weight="bold">1600</text>
<text x="464.3" y="87.94" text-anchor="end" font-size="11" font-family="Liberation Sans, sans-serif" font-weight="bold">1400</text>
<text x="464.3" y="106.47" text-anchor="end" font-size="11" font-family="Liberation Sans, sans-serif" font-weight="bold">1200</text>
<text x="464.3" y="125.00" text-anchor="end" font-size="11" font-family="Liberation Sans, sans-serif" font-weight="bold">1000</text>
<text x="464.3" y="143.53" text-anchor="end" font-size="11" font-family="Liberation Sans, sans-serif" font-weight="bold">800</text>
<text x="464.3" y="162.06" text-anchor="end" font-size="11" font-family="Liberation Sans, sans-serif" font-weight="bold">600</text>
<text x="464.3" y="180.59" text-anchor="end" font-size="11" font-family="Liberation Sans, sans-serif" font-weight="bold">400</text>
<text x="464.3" y="199.12" text-anchor="end" font-size="11" font-family="Liberation Sans, sans-serif" font-weight="bold">200</text>
<text x="464.3" y="217.65" text-anchor="end" font-size="11" font-family="Liberation Sans, sans-serif" font-weight="bold">0</text>
<text x="478.7" y="31.9" font-size="9.5" font-family="Liberation Sans, sans-serif" font-weight="bold" fill="#7a7a7a">p=0.009*</text>
<text transform="translate(428.4,215) rotate(-90)" font-size="12.3" font-family="Liberation Sans, sans-serif" font-weight="bold" textLength="130" lengthAdjust="spacingAndGlyphs">TOTAL AKAP7 mRNA</text>
<rect x="478.3" y="139.8" width="24.8" height="45.8" fill="#000080"/>
<rect x="478.3" y="165.4" width="24.8" height="2.6" fill="#fff"/>
<rect x="515.2" y="141.5" width="24.6" height="44.6" fill="#000080"/>
<rect x="515.2" y="169.1" width="24.6" height="2.6" fill="#fff"/>
<rect x="551.9" y="124.4" width="24.5" height="51.8" fill="#000080"/>
<rect x="551.9" y="152.5" width="24.5" height="2.6" fill="#fff"/>
<rect x="589.1" y="53.0" width="24.3" height="100.6" fill="#000080"/>
<rect x="589.1" y="122.9" width="24.3" height="2.6" fill="#fff"/>
<line x1="583" y1="25.5" x2="583" y2="290" stroke="#8a8a8a" stroke-width="3" stroke-dasharray="3 3"/>
<rect x="641.4" y="25" width="8.9" height="193" fill="#000080"/>
<rect x="641.4" y="144.5" width="8.9" height="2.2" fill="#fff"/>
<text transform="translate(662,43) rotate(-90)" font-size="8.5" font-family="Liberation Sans, sans-serif" font-weight="bold">MAX</text>
<text transform="translate(662,147.3) rotate(-90)" text-anchor="middle" font-size="8.5" font-family="Liberation Sans, sans-serif" font-weight="bold">MEAN</text>
<text transform="translate(662,215.7) rotate(-90)" font-size="8.5" font-family="Liberation Sans, sans-serif" font-weight="bold">MIN</text>
<text transform="translate(493.2,222.3) rotate(-90)" text-anchor="end" font-size="12.2" font-family="Liberation Sans, sans-serif" font-weight="bold">NONE</text>
<text transform="translate(530.3,222.3) rotate(-90)" text-anchor="end" font-size="12.2" font-family="Liberation Sans, sans-serif" font-weight="bold">MILD</text>
<text transform="translate(567.6,222.3) rotate(-90)" text-anchor="end" font-size="12.2" font-family="Liberation Sans, sans-serif" font-weight="bold">MODERATE</text>
<text transform="translate(605.4,222.3) rotate(-90)" text-anchor="end" font-size="12.2" font-family="Liberation Sans, sans-serif" font-weight="bold">SEVERE</text>
<text x="415.6" y="328.3" font-size="15" font-family="Liberation Sans, sans-serif" font-weight="bold">C</text>
<text x="456" y="346.55" text-anchor="end" font-size="11" font-family="Liberation Sans, sans-serif" font-weight="bold">100</text>
<text x="456" y="365.05" text-anchor="end" font-size="11" font-family="Liberation Sans, sans-serif" font-weight="bold">90</text>
<text x="456" y="383.55" text-anchor="end" font-size="11" font-family="Liberation Sans, sans-serif" font-weight="bold">80</text>
<text x="456" y="402.05" text-anchor="end" font-size="11" font-family="Liberation Sans, sans-serif" font-weight="bold">70</text>
<text x="456" y="420.55" text-anchor="end" font-size="11" font-family="Liberation Sans, sans-serif" font-weight="bold">60</text>
<text x="456" y="439.05" text-anchor="end" font-size="11" font-family="Liberation Sans, sans-serif" font-weight="bold">50</text>
<text x="456" y="457.55" text-anchor="end" font-size="11" font-family="Liberation Sans, sans-serif" font-weight="bold">40</text>
<text x="456" y="476.05" text-anchor="end" font-size="11" font-family="Liberation Sans, sans-serif" font-weight="bold">30</text>
<text x="456" y="494.55" text-anchor="end" font-size="11" font-family="Liberation Sans, sans-serif" font-weight="bold">20</text>
<text x="456" y="513.05" text-anchor="end" font-size="11" font-family="Liberation Sans, sans-serif" font-weight="bold">10</text>
<text x="456" y="531.55" text-anchor="end" font-size="11" font-family="Liberation Sans, sans-serif" font-weight="bold">0</text>
<polygon points="470.6,527.2 470.6,483.5 480.8,483.5 480.8,436.6 510.9,436.6 510.9,413.1 521,413.1 521,365.1 531,365.1 531,341.9 663.8,341.9 663.8,527.2" fill="#c9c9cb"/>
<line x1="472.5" y1="527.63" x2="664" y2="343.87" stroke="#111" stroke-width="3.3" stroke-dasharray="3.5 3.015" stroke-dashoffset="5.905"/>
<polyline points="470.6,527.2 470.6,483.5 480.8,483.5 480.8,436.6 510.9,436.6 510.9,413.1 521,413.1 521,365.1 531,365.1 531,341.9 663.8,341.9" fill="none" stroke="#1b1b72" stroke-width="2.9" stroke-linejoin="miter"/>
<polygon points="535.4,347.4 544,349.8 537.4,355.1" fill="#1a1a1a"/>
<text x="542.4" y="360.2" font-size="9.6" font-family="Liberation Sans, sans-serif" font-weight="bold" fill="#222">100% SENS</text>
<text x="542.4" y="371.7" font-size="9.6" font-family="Liberation Sans, sans-serif" font-weight="bold" fill="#222">68% SPEC</text>
<text x="509.6" y="522.6" font-size="10.6" font-family="Liberation Sans, sans-serif" font-weight="bold" fill="#222" textLength="149" lengthAdjust="spacingAndGlyphs">AREA UNDER CURVE= 0.86</text>
<text transform="translate(475.00,538) rotate(-90)" text-anchor="end" font-size="10.5" font-family="Liberation Sans, sans-serif" font-weight="bold">100</text>
<text transform="translate(493.68,538) rotate(-90)" text-anchor="end" font-size="10.5" font-family="Liberation Sans, sans-serif" font-weight="bold">90</text>
<text transform="translate(512.36,538) rotate(-90)" text-anchor="end" font-size="10.5" font-family="Liberation Sans, sans-serif" font-weight="bold">80</text>
<text transform="translate(531.04,538) rotate(-90)" text-anchor="end" font-size="10.5" font-family="Liberation Sans, sans-serif" font-weight="bold">70</text>
<text transform="translate(549.72,538) rotate(-90)" text-anchor="end" font-size="10.5" font-family="Liberation Sans, sans-serif" font-weight="bold">60</text>
<text transform="translate(568.40,538) rotate(-90)" text-anchor="end" font-size="10.5" font-family="Liberation Sans, sans-serif" font-weight="bold">50</text>
<text transform="translate(587.08,538) rotate(-90)" text-anchor="end" font-size="10.5" font-family="Liberation Sans, sans-serif" font-weight="bold">40</text>
<text transform="translate(605.76,538) rotate(-90)" text-anchor="end" font-size="10.5" font-family="Liberation Sans, sans-serif" font-weight="bold">30</text>
<text transform="translate(624.44,538) rotate(-90)" text-anchor="end" font-size="10.5" font-family="Liberation Sans, sans-serif" font-weight="bold">20</text>
<text transform="translate(643.12,538) rotate(-90)" text-anchor="end" font-size="10.5" font-family="Liberation Sans, sans-serif" font-weight="bold">10</text>
<text transform="translate(661.80,538) rotate(-90)" text-anchor="end" font-size="10.5" font-family="Liberation Sans, sans-serif" font-weight="bold">0</text>
<text transform="translate(429,533) rotate(-90)" font-size="13" font-family="Liberation Sans, sans-serif" font-weight="bold" textLength="102" lengthAdjust="spacingAndGlyphs">SENSITIVITY (%)</text>
<text x="464" y="575" font-size="13" font-family="Liberation Sans, sans-serif" font-weight="bold" textLength="103.4" lengthAdjust="spacingAndGlyphs">SPECIFICITY (%)</text>
</svg>
</body></html>
